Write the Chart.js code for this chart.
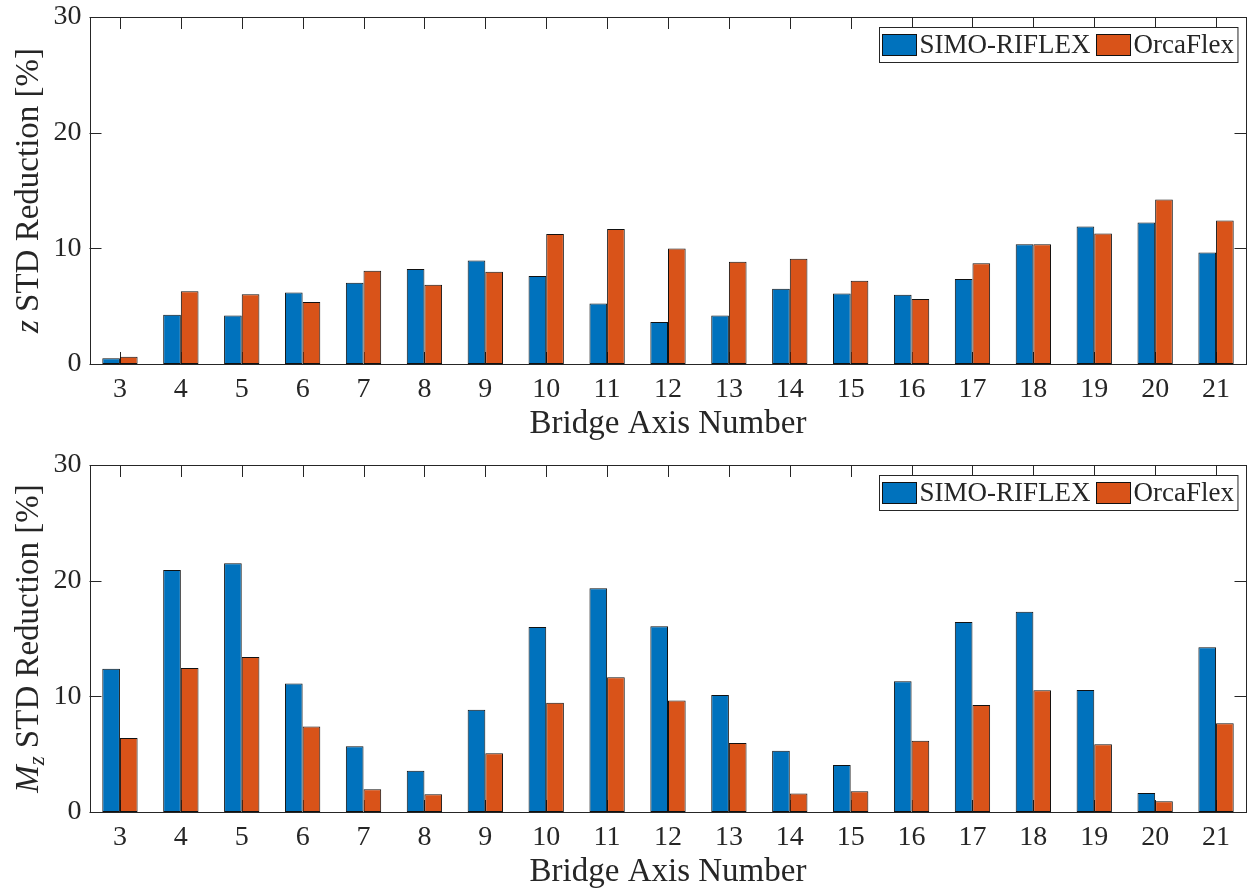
<!DOCTYPE html>
<html><head><meta charset="utf-8">
<script src="https://cdn.jsdelivr.net/npm/chart.js@4.4.1/dist/chart.umd.min.js"></script>
<style>
html,body{margin:0;padding:0;background:#fff;overflow:hidden;width:1248px;height:890px}
canvas{display:block}
</style></head><body>
<canvas id="c1" width="1248" height="448"></canvas>
<canvas id="c2" width="1248" height="448"></canvas>
<script>
// ---- data ----
const categories = ['3','4','5','6','7','8','9','10','11','12','13','14','15','16','17','18','19','20','21'];
const seriesNames = ['SIMO-RIFLEX', 'OrcaFlex'];
const zSimo = [0.5, 4.26, 4.2, 6.19, 7.02, 8.22, 8.95, 7.6, 5.24, 3.63, 4.2, 6.5, 6.1, 5.98, 7.34, 10.36, 11.89, 12.24, 9.65];
const zOrca = [0.63, 6.28, 6.02, 5.35, 8.06, 6.85, 7.97, 11.25, 11.68, 9.99, 8.83, 9.09, 7.19, 5.61, 8.7, 10.36, 11.29, 14.22, 12.41];
const mSimo = [12.39, 20.92, 21.5, 11.1, 5.68, 3.57, 8.85, 16.0, 19.34, 16.05, 10.12, 5.3, 4.06, 11.3, 16.43, 17.32, 10.55, 1.64, 14.24];
const mOrca = [6.4, 12.45, 13.4, 7.4, 1.96, 1.53, 5.07, 9.45, 11.64, 9.63, 5.97, 1.61, 1.79, 6.17, 9.25, 10.52, 5.85, 0.92, 7.67];
const yTicks = [0, 10, 20, 30];
const xTitle = 'Bridge Axis Number';
const zTitleParts = [{t:'z', it:true}, {t:' STD Reduction [%]'}];
const mTitleParts = [{t:'M', it:true}, {t:'z', it:true, sub:true}, {t:' STD Reduction [%]'}];

// ---- style ----
const AX = '#262626';
const BLUE = '#0072BD', ORANGE = '#D95319';
const SERIF = "'Liberation Serif', 'Times New Roman', serif";

function makePlugins(titleParts) {
  const frame = {
    id: 'frameTicks',
    beforeDatasetsDraw(chart) {
      const {ctx, chartArea: a, scales: {x, y}} = chart;
      ctx.save();
      ctx.strokeStyle = AX; ctx.lineWidth = 1;
      ctx.beginPath();
      x.ticks.forEach((t, i) => {
        const px = Math.round(x.getPixelForTick(i)) + 0.5;
        ctx.moveTo(px, a.bottom); ctx.lineTo(px, a.bottom - 12);
        ctx.moveTo(px, a.top); ctx.lineTo(px, a.top + 12);
      });
      y.ticks.forEach(t => {
        const py = Math.round(y.getPixelForValue(t.value)) + 0.5;
        ctx.moveTo(a.left, py); ctx.lineTo(a.left + 12, py);
        ctx.moveTo(a.right, py); ctx.lineTo(a.right - 12, py);
      });
      ctx.stroke();
      ctx.restore();
    },
    afterDatasetsDraw(chart) {
      const {ctx, chartArea: a} = chart;
      ctx.save();
      ctx.strokeStyle = AX; ctx.lineWidth = 1;
      const l = Math.round(a.left) + 0.5, t = Math.round(a.top) + 0.5;
      const r = Math.round(a.right) - 0.5, b = Math.round(a.bottom) + 0.5;
      ctx.strokeRect(l, t, r - l, b - t);
      ctx.restore();
    },
    afterDraw(chart) {
      const {ctx, chartArea: a} = chart;
      // legend box
      ctx.save();
      const lf = "27px " + SERIF;
      ctx.font = lf;
      const ds = chart.data.datasets;
      const sw = 34, sh = 21, padL = 3, gapT = 3, gapS = 6, padR = 4;
      let w = padL;
      const widths = ds.map(d => ctx.measureText(d.label).width);
      ds.forEach((d, i) => { w += sw + gapT + widths[i] + (i < ds.length - 1 ? gapS : padR); });
      const bh = 35;
      const bx = Math.round(a.right - 9 - w) + 0.5, by = Math.round(a.top + 10) + 0.5;
      ctx.fillStyle = '#fff';
      ctx.fillRect(bx, by, w, bh);
      ctx.strokeStyle = AX; ctx.lineWidth = 1;
      ctx.strokeRect(bx, by, w, bh);
      let cx = bx + padL;
      const cy = by + bh / 2;
      ds.forEach((d, i) => {
        ctx.fillStyle = d.backgroundColor;
        ctx.fillRect(cx, cy - sh / 2, sw, sh);
        ctx.strokeStyle = '#111'; ctx.lineWidth = 1;
        ctx.strokeRect(cx, cy - sh / 2, sw, sh);
        cx += sw + gapT;
        ctx.fillStyle = AX;
        ctx.textBaseline = 'middle'; ctx.textAlign = 'left';
        ctx.fillText(d.label, cx, cy + 1);
        cx += widths[i] + gapS;
      });
      ctx.restore();
      // y-axis title with italic / subscript parts
      ctx.save();
      const fs = 33;
      const fontFor = p => (p.it ? 'italic ' : '') + (p.sub ? Math.round(fs * 0.7) : fs) + 'px ' + SERIF;
      let total = 0;
      const ws = titleParts.map(p => { ctx.font = fontFor(p); const m = ctx.measureText(p.t).width; total += m; return m; });
      const midY = (a.top + a.bottom) / 2;
      ctx.translate(38, midY);
      ctx.rotate(-Math.PI / 2);
      ctx.fillStyle = AX;
      ctx.textBaseline = 'alphabetic'; ctx.textAlign = 'left';
      let px = -total / 2;
      titleParts.forEach((p, i) => {
        ctx.font = fontFor(p);
        ctx.fillText(p.t, px, p.sub ? 6 : 0);
        px += ws[i];
      });
      ctx.restore();
    }
  };
  return [frame];
}

function makeChart(id, simo, orca, titleParts) {
  return new Chart(document.getElementById(id), {
    type: 'bar',
    data: {
      labels: categories,
      datasets: [
        {label: seriesNames[0], data: simo, backgroundColor: BLUE, borderColor: '#111', borderWidth: 1, borderSkipped: false},
        {label: seriesNames[1], data: orca, backgroundColor: ORANGE, borderColor: '#111', borderWidth: 1, borderSkipped: false}
      ]
    },
    options: {
      responsive: false,
      animation: false,
      events: [],
      datasets: {bar: {categoryPercentage: 0.58, barPercentage: 1.0}},
      layout: {padding: {left: 0, right: 1.5, top: 17, bottom: 0}},
      plugins: {legend: {display: false}, tooltip: {enabled: false}},
      scales: {
        x: {
          offset: true,
          grid: {display: false, drawTicks: false},
          border: {display: false},
          ticks: {color: AX, font: {family: SERIF, size: 28}, padding: 9, maxRotation: 0, autoSkip: false},
          title: {display: true, text: xTitle, color: AX, font: {family: SERIF, size: 33}, padding: {top: 0, bottom: 4}},
          afterFit: s => { s.height = 84; s.paddingLeft = 0; s.paddingRight = 0; }
        },
        y: {
          min: 0, max: 30,
          afterBuildTicks: s => { s.ticks = yTicks.map(v => ({value: v})); },
          grid: {display: false, drawTicks: false},
          border: {display: false},
          ticks: {color: AX, font: {family: SERIF, size: 28}, padding: 8},
          afterFit: s => { s.width = 89.5; s.paddingTop = 0; s.paddingBottom = 0; }
        }
      }
    },
    plugins: makePlugins(titleParts)
  });
}

makeChart('c1', zSimo, zOrca, zTitleParts);
makeChart('c2', mSimo, mOrca, mTitleParts);
</script>
</body></html>
